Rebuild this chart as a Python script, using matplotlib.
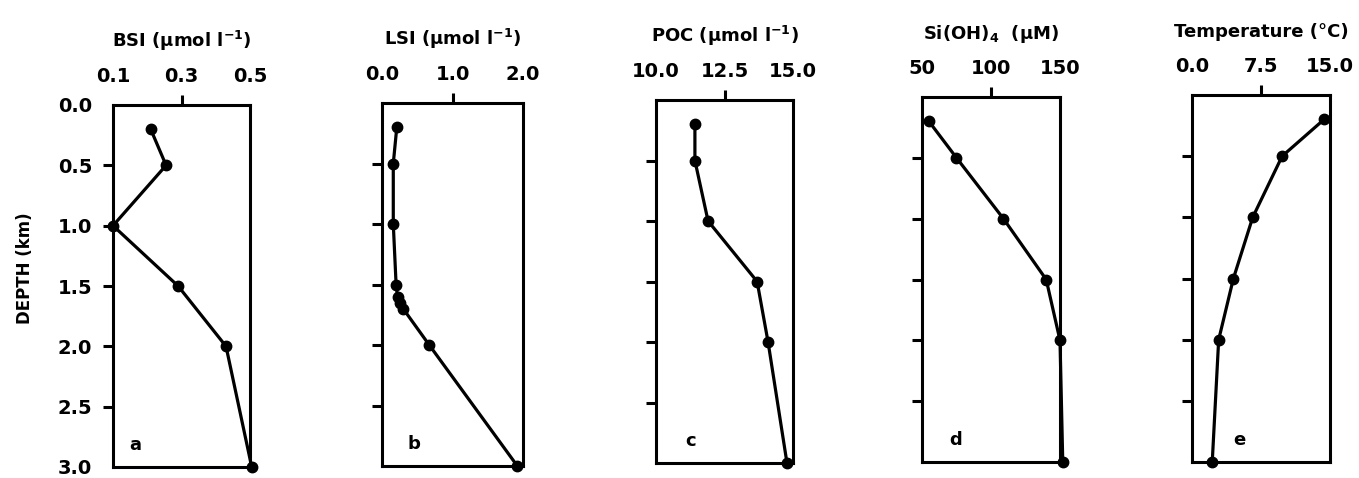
import matplotlib
matplotlib.use("Agg")
import matplotlib.pyplot as plt

plt.rcParams['font.family'] = 'DejaVu Sans'
plt.rcParams['font.weight'] = 'bold'
plt.rcParams['mathtext.fontset'] = 'dejavusans'
plt.rcParams['mathtext.default'] = 'bf'

# depth profiles (km)
depth = [0.2, 0.5, 1.0, 1.5, 2.0, 3.0]
bsi = [0.21, 0.255, 0.10, 0.29, 0.43, 0.505]
lsi_depth = [0.2, 0.5, 1.0, 1.5, 1.6, 1.65, 1.7, 2.0, 3.0]
lsi = [0.21, 0.16, 0.16, 0.20, 0.22, 0.25, 0.30, 0.67, 1.92]
poc = [11.42, 11.42, 11.9, 13.69, 14.09, 14.78]
sioh4 = [55, 75, 109, 140, 150, 152]
temp = [14.35, 9.8, 6.6, 4.5, 2.9, 2.2]

titles = [r"BSI ($\mu$mol l$^{-1}$)", r"LSI ($\mu$mol l$^{-1}$)",
          r"POC ($\mu$mol l$^{-1}$)", r"Si(OH)$_4$  ($\mu$M)",
          "Temperature (°C)"]
xticks = [[0.1, 0.3, 0.5], [0.0, 1.0, 2.0], [10.0, 12.5, 15.0],
          [50, 100, 150], [0.0, 7.5, 15.0]]
xticklabels = [["0.1", "0.3", "0.5"], ["0.0", "1.0", "2.0"],
               ["10.0", "12.5", "15.0"], ["50", "100", "150"],
               ["0.0", "7.5", "15.0"]]
letters = ["a", "b", "c", "d", "e"]
letter_x = [0.12, 0.18, 0.21, 0.2, 0.3]
yticks = [0.0, 0.5, 1.0, 1.5, 2.0, 2.5, 3.0]

series = [(bsi, depth), (lsi, lsi_depth), (poc, depth),
          (sioh4, depth), (temp, depth)]

W, H = 1359, 478
# pixel boxes: left, right, top, bottom
boxes = [(113, 250, 105, 467), (382, 523, 103, 466), (656, 793, 100, 463),
         (922, 1060, 97, 462), (1192, 1330, 95, 462)]

fig = plt.figure(figsize=(W / 100, H / 100), dpi=100)

for i, (l, r, t, b) in enumerate(boxes):
    ax = fig.add_axes([l / W, 1 - b / H, (r - l) / W, (b - t) / H])
    x, y = series[i]
    ax.plot(x, y, color='black', lw=2.3, marker='o', ms=7.5, clip_on=False)
    ax.set_xlim(xticks[i][0], xticks[i][-1])
    ax.set_ylim(3.0, 0.0)
    for s in ax.spines.values():
        s.set_linewidth(2.2)

    ax.xaxis.tick_top()
    ax.set_xticks(xticks[i])
    ax.set_xticklabels(xticklabels[i], fontsize=14, fontweight='bold')
    ax.tick_params(axis='x', length=7, width=2.2, pad=7)
    ticks = ax.xaxis.get_major_ticks()
    ticks[0].tick2line.set_visible(False)
    ticks[-1].tick2line.set_visible(False)

    ax.set_yticks(yticks)
    ax.tick_params(axis='y', length=7, width=2.2, direction='out', pad=8)
    yt = ax.yaxis.get_major_ticks()
    yt[0].tick1line.set_visible(False)
    yt[-1].tick1line.set_visible(False)
    if i == 0:
        ax.set_yticklabels([f"{v:.1f}" for v in yticks], fontsize=14,
                           fontweight='bold')
        ax.set_ylabel("DEPTH (km)", fontsize=12, fontweight='bold')
        ax.yaxis.set_label_coords(-0.58, 0.55)
    else:
        ax.set_yticklabels([])

    ax.set_title(titles[i], fontsize=13, fontweight='bold', pad=14)
    ax.text(letter_x[i], 0.035, letters[i], transform=ax.transAxes,
            fontsize=13, fontweight='bold', ha='left', va='bottom')

fig.savefig("out.png", dpi=100)
